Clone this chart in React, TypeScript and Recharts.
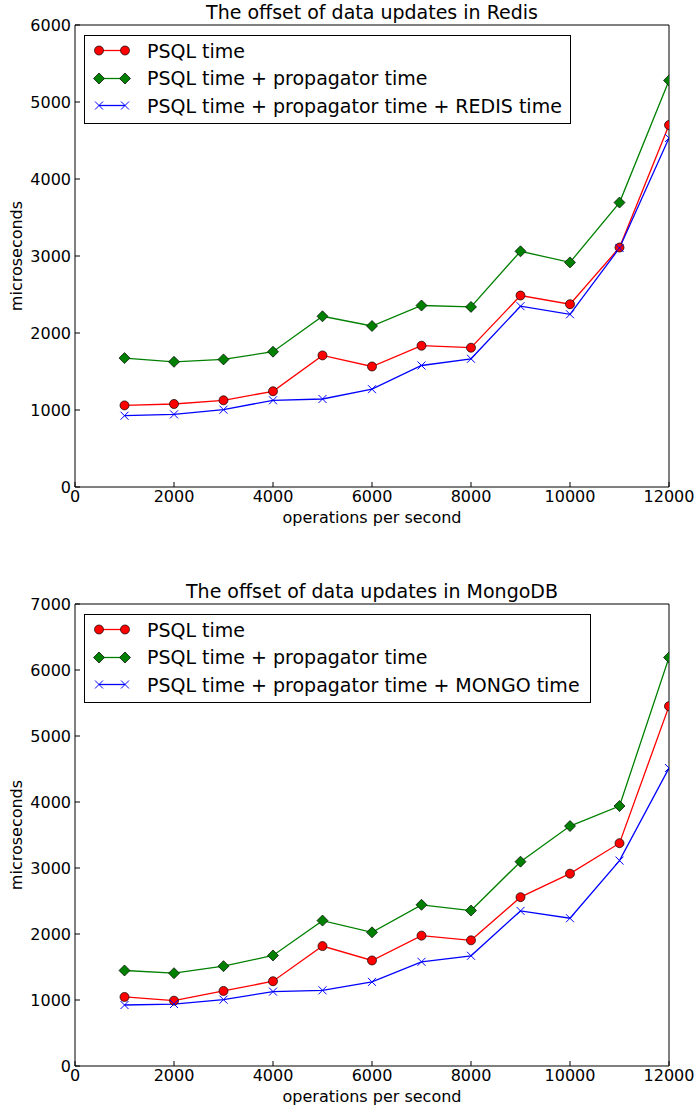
import { LineChart, Line, XAxis, YAxis, Legend } from "recharts";

const FONT = "DejaVu Sans";

// operations per second
const ops = [1000, 2000, 3000, 4000, 5000, 6000, 7000, 8000, 9000, 10000, 11000, 12000];
const xTicks = [0, 2000, 4000, 6000, 8000, 10000, 12000];

// Redis run (microseconds)
const redisPsql = [1060, 1078, 1126, 1243, 1709, 1565, 1835, 1809, 2487, 2374, 3110, 4700];
const redisProp = [1674, 1626, 1657, 1757, 2217, 2091, 2357, 2339, 3061, 2917, 3694, 5280];
const redisTotal = [926, 943, 1004, 1126, 1143, 1270, 1578, 1665, 2348, 2243, 3104, 4533];
const redisTicks = [0, 1000, 2000, 3000, 4000, 5000, 6000];

// MongoDB run (microseconds)
const mongoPsql = [1046, 990, 1137, 1284, 1817, 1599, 1975, 1904, 2558, 2914, 3376, 5452];
const mongoProp = [1447, 1406, 1513, 1675, 2203, 2025, 2442, 2355, 3096, 3635, 3939, 6190];
const mongoTotal = [924, 939, 1005, 1127, 1147, 1274, 1579, 1670, 2350, 2239, 3112, 4515];
const mongoTicks = [0, 1000, 2000, 3000, 4000, 5000, 6000, 7000];

const RED = "#ff0000";
const GREEN = "#008000";
const BLUE = "#0000ff";

const circle = (cx: number, cy: number, key?: any) => (
  <circle key={key} cx={cx} cy={cy} r={4.5} fill={RED} stroke="#000" strokeWidth={0.7} />
);
const diamond = (cx: number, cy: number, key?: any) => (
  <path
    key={key}
    d={`M${cx},${cy - 5.5}L${cx + 5.5},${cy}L${cx},${cy + 5.5}L${cx - 5.5},${cy}Z`}
    fill={GREEN}
    stroke="#000"
    strokeWidth={0.7}
  />
);
const cross = (cx: number, cy: number, key?: any) => (
  <path
    key={key}
    d={`M${cx - 4},${cy - 4}L${cx + 4},${cy + 4}M${cx - 4},${cy + 4}L${cx + 4},${cy - 4}`}
    stroke={BLUE}
    strokeWidth={1}
    fill="none"
  />
);

const tickStyle = { fontFamily: FONT, fontSize: 16, fill: "#000" };

function LegendBox({ third }: { third: string }) {
  const rows = [
    { label: "PSQL time", color: RED, mark: circle },
    { label: "PSQL time + propagator time", color: GREEN, mark: diamond },
    { label: "PSQL time + propagator time + " + third + " time", color: BLUE, mark: cross },
  ];
  return (
    <div
      style={{
        border: "1px solid #000",
        background: "#fff",
        boxSizing: "border-box",
        height: 89,
        paddingTop: 1,
        fontFamily: FONT,
        fontSize: 19,
        color: "#000",
      }}
    >
      {rows.map((r) => (
        <div key={r.label} style={{ display: "flex", alignItems: "center", height: 27.5 }}>
          <svg width={62} height={27} style={{ flex: "none" }}>
            <line x1={14} y1={13.5} x2={40} y2={13.5} stroke={r.color} strokeWidth={1.3} />
            {r.mark(14, 13.5)}
            {r.mark(40, 13.5)}
          </svg>
          <span style={{ whiteSpace: "nowrap" }}>{r.label}</span>
        </div>
      ))}
    </div>
  );
}

type PanelProps = {
  title: string;
  third: string;
  psql: number[];
  prop: number[];
  total: number[];
  yTicks: number[];
  marginTop: number;
  marginBottom: number;
  legendTop: number;
  legendWidth: number;
};

function Panel(p: PanelProps) {
  const data = ops.map((x, i) => ({ x, psql: p.psql[i], prop: p.prop[i], total: p.total[i] }));
  const yMax = p.yTicks[p.yTicks.length - 1];
  return (
    <LineChart
      width={700}
      height={555}
      data={data}
      margin={{ top: p.marginTop, right: 30, bottom: p.marginBottom, left: 15 }}
    >
      <XAxis
        dataKey="x"
        type="number"
        domain={[0, 12000]}
        ticks={xTicks}
        allowDataOverflow
        height={40}
        tickSize={-5}
        tickMargin={9}
        stroke="#000"
        tick={tickStyle}
        interval={0}
        label={{
          content: (lp: any) => {
            const vb = lp.viewBox;
            return (
              <text x={vb.x + vb.width / 2} y={vb.y + 36} textAnchor="middle" style={tickStyle}>
                operations per second
              </text>
            );
          },
        }}
      />
      <XAxis
        xAxisId="top"
        orientation="top"
        type="number"
        domain={[0, 12000]}
        ticks={xTicks}
        height={1}
        tickSize={-5}
        tick={false}
        stroke="#000"
        interval={0}
        label={{
          content: (lp: any) => {
            const vb = lp.viewBox;
            return (
              <text
                x={vb.x + vb.width / 2}
                y={vb.y + vb.height - 6}
                textAnchor="middle"
                style={{ fontFamily: FONT, fontSize: 19, fill: "#000" }}
              >
                {p.title}
              </text>
            );
          },
        }}
      />
      <YAxis
        type="number"
        domain={[0, yMax]}
        ticks={p.yTicks}
        width={60}
        tickSize={-5}
        tickMargin={9}
        stroke="#000"
        tick={tickStyle}
        interval={0}
        label={{
          content: (lp: any) => {
            const vb = lp.viewBox;
            const cx = 22;
            const cy = vb.y + vb.height / 2;
            return (
              <text x={cx} y={cy} textAnchor="middle" transform={`rotate(-90, ${cx}, ${cy})`} style={tickStyle}>
                microseconds
              </text>
            );
          },
        }}
      />
      <YAxis
        yAxisId="right"
        orientation="right"
        type="number"
        domain={[0, yMax]}
        ticks={p.yTicks}
        width={1}
        tickSize={-5}
        tick={false}
        stroke="#000"
        interval={0}
      />
      <Legend
        layout="vertical"
        align="center"
        verticalAlign="middle"
        wrapperStyle={{ left: 84, top: p.legendTop, width: p.legendWidth, height: 89 }}
        content={() => <LegendBox third={p.third} />}
      />
      <Line
        dataKey="psql"
        stroke={RED}
        strokeWidth={1.3}
        isAnimationActive={false}
        dot={(d: any) => circle(d.cx, d.cy, d.index)}
        activeDot={false}
      />
      <Line
        dataKey="prop"
        stroke={GREEN}
        strokeWidth={1.3}
        isAnimationActive={false}
        dot={(d: any) => diamond(d.cx, d.cy, d.index)}
        activeDot={false}
      />
      <Line
        dataKey="total"
        stroke={BLUE}
        strokeWidth={1.3}
        isAnimationActive={false}
        dot={(d: any) => cross(d.cx, d.cy, d.index)}
        activeDot={false}
      />
    </LineChart>
  );
}

export default function App() {
  return (
    <div style={{ position: "absolute", left: 0, top: 0, width: 700, height: 1110, background: "#fff" }}>
      <Panel
        title="The offset of data updates in Redis"
        third="REDIS"
        psql={redisPsql}
        prop={redisProp}
        total={redisTotal}
        yTicks={redisTicks}
        marginTop={24}
        marginBottom={28}
        legendTop={35}
        legendWidth={487}
      />
      <Panel
        title="The offset of data updates in MongoDB"
        third="MONGO"
        psql={mongoPsql}
        prop={mongoProp}
        total={mongoTotal}
        yTicks={mongoTicks}
        marginTop={48}
        marginBottom={4}
        legendTop={59}
        legendWidth={507}
      />
    </div>
  );
}
